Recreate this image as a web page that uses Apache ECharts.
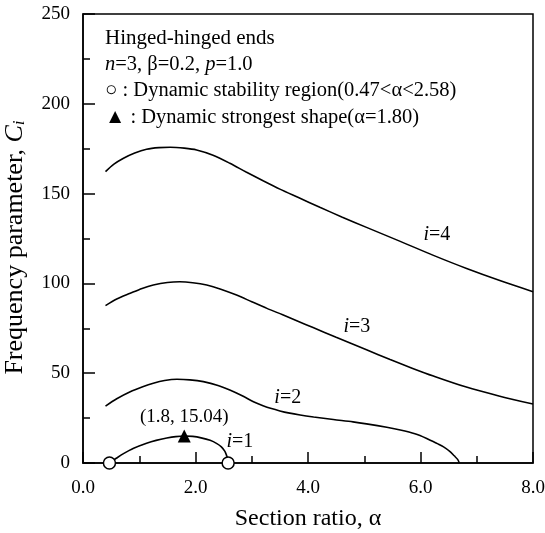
<!DOCTYPE html>
<html>
<head>
<meta charset="utf-8">
<script src="https://cdn.jsdelivr.net/npm/echarts@6/dist/echarts.min.js"></script>
<style>html,body{margin:0;padding:0;background:#fff;}#c{width:545px;height:533px;}</style>
</head>
<body>
<div id="c"></div>
<script>
// ---- data ----
var xTickLabels = ['0.0', '2.0', '4.0', '6.0', '8.0'];
var yTickLabels = ['0', '50', '100', '150', '200', '250'];

var mode1 = [[0.47,0],[0.6,2.8],[0.72,5.2],[0.9,8.2],[1.13,11.0],[1.3,12.6],[1.49,13.9],[1.65,14.7],[1.8,15.04],[1.95,14.8],[2.1,14.0],[2.26,12.6],[2.38,10.8],[2.46,9.0],[2.52,6.6],[2.555,4.0],[2.575,2.0],[2.58,0]];
var mode2 = [[0.4,31.7],[0.6,35.8],[0.84,39.7],[1.05,42.3],[1.25,44.4],[1.45,45.9],[1.67,46.6],[1.9,46.3],[2.14,45.3],[2.4,43.2],[2.61,40.6],[2.83,37.4],[3.03,34.1],[3.2,31.9],[3.35,30.3],[3.5,29.0],[3.65,27.9],[3.86,26.7],[4.1,25.6],[4.45,24.2],[4.8,22.9],[5.04,21.8],[5.4,19.9],[5.64,18.4],[5.9,16.3],[6.11,13.7],[6.3,10.8],[6.41,9.0],[6.52,6.5],[6.6,4.0],[6.66,2.0],[6.69,0]];
var mode3 = [[0.4,87.6],[0.6,91.3],[0.84,94.5],[1.05,97.2],[1.25,99.1],[1.5,100.5],[1.72,100.9],[1.95,100.4],[2.2,99.1],[2.45,96.8],[2.73,93.5],[3.0,89.8],[3.27,86.1],[3.55,82.5],[3.8,79.2],[4.09,75.4],[4.5,70.0],[5.04,63.0],[5.46,57.6],[5.85,52.8],[6.23,48.4],[6.8,42.4],[7.41,37.2],[8.0,32.8]];
var mode4 = [[0.4,162.2],[0.55,166.4],[0.72,169.7],[0.92,172.6],[1.13,174.7],[1.35,175.6],[1.55,175.8],[1.8,175.3],[2.02,174.3],[2.3,171.5],[2.61,166.9],[2.9,162.0],[3.21,157.0],[3.5,152.5],[3.83,147.8],[4.21,142.4],[4.6,137.0],[5.04,131.2],[5.64,123.4],[6.23,115.6],[6.82,108.3],[7.41,101.6],[8.0,95.4]];

var stabilityBounds = [[0.47,0],[2.58,0]];
var strongestPoint = [[1.8,15.04]];
var strongestLabel = '(1.8, 15.04)';

var modeNames = ['1', '2', '3', '4'];
var modeLabelAnchors = [[2.79,11.9],[3.64,36.2],[4.87,75.9],[6.29,127.0]];

var infoLines = ['Hinged-hinged ends', '{it|n}=3, β=0.2, {it|p}=1.0', '○ : Dynamic stability region(0.47<α<2.58)', '▲ : Dynamic strongest shape(α=1.80)'];

// ---- chart ----
var FONT = '"Liberation Serif", "Times New Roman", serif';
var chart = echarts.init(document.getElementById('c'), null, {renderer: 'canvas'});

function lineSeries(d) {
  return {type: 'line', data: d, showSymbol: false, smooth: 0.3,
    lineStyle: {color: '#000', width: 1.6}, silent: true, z: 3};
}

var labelData = modeLabelAnchors.map(function (p, k) {
  return {value: p, label: {formatter: '{it|i}=' + modeNames[k]}};
});

var option = {
  animation: false,
  backgroundColor: '#fff',
  grid: {left: 83, right: 12, top: 14, bottom: 70, outerBoundsMode: 'none', containLabel: false,
    show: true, borderColor: '#000', borderWidth: 1.5},
  xAxis: {
    type: 'value', min: 0, max: 8, interval: 2,
    name: 'Section ratio, α', nameLocation: 'middle', nameGap: 44,
    nameTextStyle: {fontFamily: FONT, fontSize: 24, color: '#000'},
    axisLine: {lineStyle: {color: '#000', width: 1.5}},
    axisTick: {inside: true, length: 11, lineStyle: {color: '#000', width: 1.5}},
    minorTick: {show: true, splitNumber: 2, length: 7, lineStyle: {color: '#000', width: 1.5}},
    splitLine: {show: false},
    axisLabel: {margin: 16, fontFamily: FONT, fontSize: 19, color: '#000',
      formatter: function (v) { return xTickLabels[Math.round(v / 2)]; }}
  },
  yAxis: {
    type: 'value', min: 0, max: 250, interval: 50,
    name: '{n|Frequency parameter, }{c|C}{s|i}', nameLocation: 'middle', nameGap: 55,
    nameTextStyle: {fontFamily: FONT, fontSize: 26, color: '#000', padding: [0, 18, 0, 0],
      rich: {n: {fontFamily: FONT, fontSize: 26, color: '#000'},
             c: {fontFamily: FONT, fontSize: 26, fontStyle: 'italic', color: '#000'},
             s: {fontFamily: FONT, fontSize: 17, fontStyle: 'italic', color: '#000', verticalAlign: 'bottom', padding: [9, 0, 0, 0]}}},
    axisLine: {lineStyle: {color: '#000', width: 1.5}},
    axisTick: {inside: true, length: 12, lineStyle: {color: '#000', width: 1.5}},
    minorTick: {show: true, splitNumber: 2, length: 7, lineStyle: {color: '#000', width: 1.5}},
    splitLine: {show: false},
    axisLabel: {margin: 13, fontFamily: FONT, fontSize: 19, color: '#000',
      formatter: function (v) { return yTickLabels[Math.round(v / 50)]; }}
  },
  series: [
    lineSeries(mode1), lineSeries(mode2), lineSeries(mode3), lineSeries(mode4),
    {type: 'scatter', data: stabilityBounds, symbol: 'circle', symbolSize: 12,
      itemStyle: {color: '#fff', borderColor: '#000', borderWidth: 1.5, opacity: 1}, z: 5, silent: true},
    {type: 'scatter', data: strongestPoint, symbol: 'triangle', symbolSize: 13,
      itemStyle: {color: '#000', opacity: 1}, z: 5, silent: true,
      label: {show: true, position: 'top', distance: 3, formatter: strongestLabel,
        fontFamily: FONT, fontSize: 19, color: '#000'}},
    {type: 'scatter', data: labelData, symbolSize: 0, silent: true, z: 6,
      itemStyle: {opacity: 1},
      label: {show: true, position: 'inside', fontFamily: FONT, fontSize: 20, color: '#000',
        rich: {it: {fontFamily: FONT, fontSize: 20, fontStyle: 'italic', color: '#000'}}}}
  ],
  graphic: infoLines.map(function (t, k) {
    var fs = k === 0 ? 21 : 20.5;
    return {type: 'text', left: 105, top: 28 + k * 26.3, silent: true,
      style: {text: t, fontFamily: FONT, fontSize: fs, fill: '#000',
        rich: {it: {fontFamily: FONT, fontSize: fs, fontStyle: 'italic', fill: '#000'}}}};
  })
};
chart.setOption(option);
</script>
</body>
</html>
